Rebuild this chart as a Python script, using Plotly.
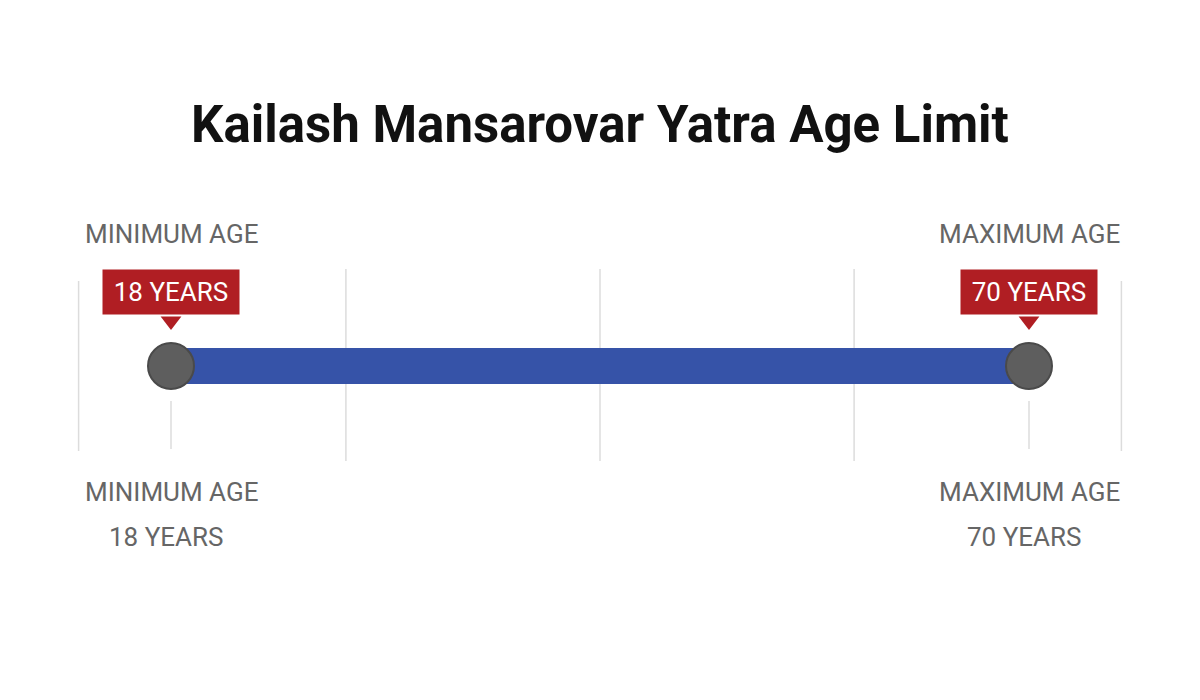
import plotly.graph_objects as go

ages = [18, 70]
end_labels = ["MINIMUM AGE", "MAXIMUM AGE"]
badge_labels = ["18 YEARS", "70 YEARS"]
grid_ages = [12.4, 28.6, 44.0, 59.4, 75.6]

px_per_year = 16.5
# page body adds an 8px offset, compensate in the ranges
x0 = 18 - 163 / px_per_year
x1 = 18 + 1037 / px_per_year

fig = go.Figure()

# grid lines
for i, g in enumerate(grid_ages):
    top, bot = (265, 435) if i in (0, len(grid_ages) - 1) else (253, 445)
    fig.add_shape(type="line", x0=g, x1=g, y0=top, y1=bot,
                  line=dict(color="#dcdcdc", width=1.5), layer="below")
for a in ages:
    fig.add_shape(type="line", x0=a, x1=a, y0=385, y1=433,
                  line=dict(color="#dcdcdc", width=1.5), layer="below")

# the range bar
fig.add_trace(go.Scatter(x=ages, y=[350, 350], mode="lines",
                         line=dict(color="#3653a8", width=36), hoverinfo="skip"))
fig.add_trace(go.Scatter(x=ages, y=[350, 350], mode="markers",
                         marker=dict(size=46, color="#5e5e5e",
                                     line=dict(color="#4a4a4a", width=2)),
                         hoverinfo="skip"))
# badge pointers
fig.add_trace(go.Scatter(x=ages, y=[305, 305], mode="markers",
                         marker=dict(symbol="triangle-down", size=18, color="#b01e23"),
                         hoverinfo="skip"))

for a, lab, badge in zip(ages, end_labels, badge_labels):
    fig.add_annotation(x=a, y=218, text=lab, showarrow=False,
                       font=dict(size=26, color="#666666", family="Roboto"))
    fig.add_annotation(x=a, y=276, text=badge, showarrow=False,
                       font=dict(size=26, color="white", family="Roboto"),
                       bgcolor="#b01e23", borderpad=7, width=122)
    fig.add_annotation(x=a, y=476, text=lab, showarrow=False,
                       font=dict(size=26, color="#666666", family="Roboto"))
    fig.add_annotation(x=a - 0.3, y=521, text=badge, showarrow=False,
                       font=dict(size=26, color="#666666", family="Roboto"))

fig.add_annotation(x=(x0 + x1) / 2 - 8 / px_per_year, y=108,
                   text="<b>Kailash Mansarovar Yatra Age Limit</b>",
                   showarrow=False, font=dict(size=51, color="#111111", family="Roboto"))

fig.update_layout(
    width=1200, height=700, margin=dict(l=0, r=0, t=0, b=0),
    paper_bgcolor="white", plot_bgcolor="white", showlegend=False,
    xaxis=dict(range=[x0, x1], visible=False, fixedrange=True),
    yaxis=dict(range=[692, -8], visible=False, fixedrange=True),
)

fig.write_html("out.html")
